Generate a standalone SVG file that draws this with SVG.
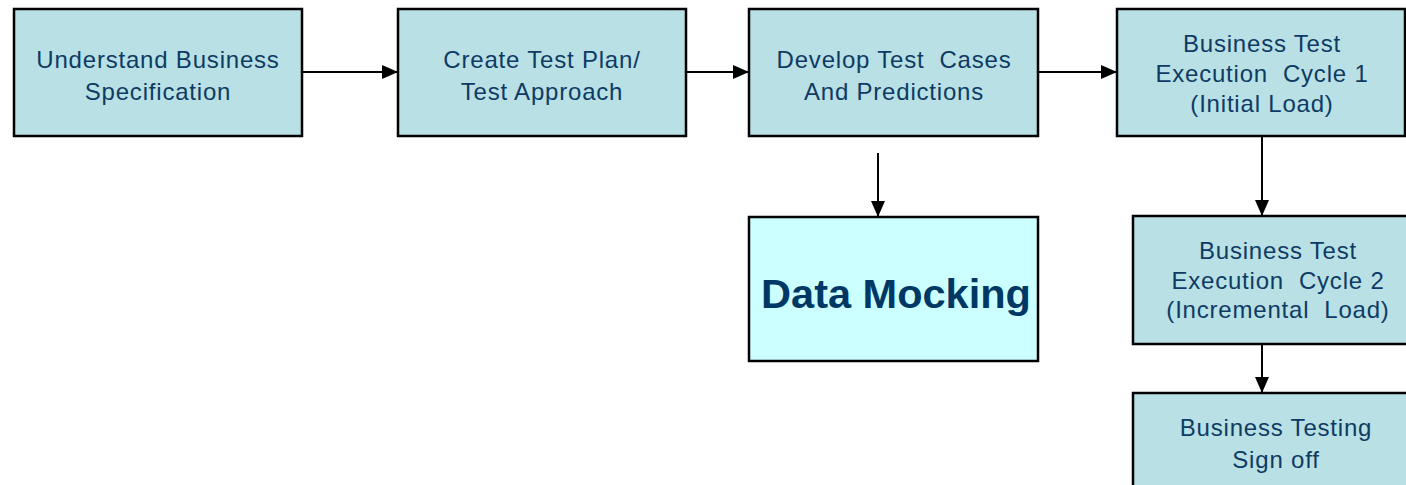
<svg xmlns="http://www.w3.org/2000/svg" width="1406" height="485" viewBox="0 0 1406 485">
<style>
.box{fill:#B9E0E4;stroke:#000;stroke-width:2.5}
.mock{fill:#CCFFFF;stroke:#000;stroke-width:2.5}
.t{font-family:"Liberation Sans",Arial,sans-serif;font-size:24px;fill:#0E3B64;text-anchor:middle;letter-spacing:0.8px}
.big{font-family:"Liberation Sans",Arial,sans-serif;font-size:41.5px;font-weight:bold;fill:#003865;text-anchor:middle}
.c{stroke:#000;stroke-width:2;fill:none;marker-end:url(#ah)}
</style>
<defs>
<marker id="ah" markerWidth="16" markerHeight="14" refX="16" refY="7" orient="auto" markerUnits="userSpaceOnUse">
<path d="M0,0 L16,7 L0,14 Z" fill="#000"/>
</marker>
</defs>
<rect width="1406" height="485" fill="#fff"/>
<g id="connectors">
<line class="c" x1="302" y1="72" x2="398" y2="72"/>
<line class="c" x1="686" y1="72" x2="749" y2="72"/>
<line class="c" x1="1038" y1="72" x2="1117" y2="72"/>
<line class="c" x1="878" y1="153" x2="878" y2="217"/>
<line class="c" x1="1262" y1="136" x2="1262" y2="216"/>
<line class="c" x1="1262" y1="344" x2="1262" y2="393"/>
</g>
<g id="n1">
<rect class="box" x="14" y="9" width="288" height="127"/>
<text class="t" x="158" y="68">Understand Business</text>
<text class="t" x="158" y="100">Specification</text>
</g>
<g id="n2">
<rect class="box" x="398" y="9" width="288" height="127"/>
<text class="t" x="542" y="68">Create Test Plan/</text>
<text class="t" x="542" y="100">Test Approach</text>
</g>
<g id="n3">
<rect class="box" x="749" y="9" width="289" height="127"/>
<text class="t" x="894" y="68" xml:space="preserve">Develop Test  Cases</text>
<text class="t" x="894" y="100">And Predictions</text>
</g>
<g id="n4">
<rect class="box" x="1117" y="9" width="288" height="127"/>
<text class="t" x="1262" y="52">Business Test</text>
<text class="t" x="1262" y="82" xml:space="preserve">Execution  Cycle 1</text>
<text class="t" x="1262" y="112">(Initial Load)</text>
</g>
<g id="n5">
<rect class="mock" x="749" y="217" width="289" height="144"/>
<text class="big" x="896" y="308">Data Mocking</text>
</g>
<g id="n6">
<rect class="box" x="1133" y="216" width="290" height="128"/>
<text class="t" x="1278" y="259">Business Test</text>
<text class="t" x="1278" y="289" xml:space="preserve">Execution  Cycle 2</text>
<text class="t" x="1278" y="318" xml:space="preserve">(Incremental  Load)</text>
</g>
<g id="n7">
<rect class="box" x="1133" y="393" width="290" height="130"/>
<text class="t" x="1276" y="436">Business Testing</text>
<text class="t" x="1276" y="468">Sign off</text>
</g>
</svg>
